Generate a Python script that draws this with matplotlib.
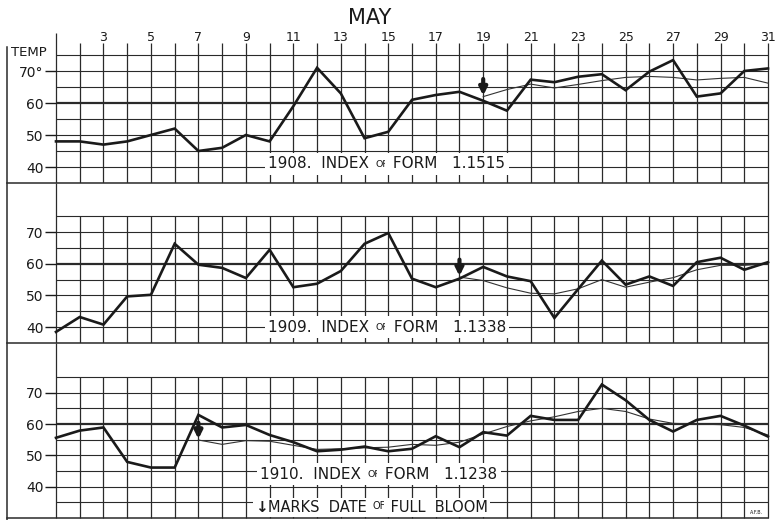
import matplotlib
matplotlib.use("Agg")
import matplotlib.pyplot as plt
from matplotlib.lines import Line2D

# ---------------- data ----------------
days = list(range(1, 32))
temp_1908 = [48, 48, 47, 48, 50, 52, 45, 46, 50, 48, 59, 71, 63, 49, 51,
             61, 62.5, 63.5, 60.7, 57.6, 67.3, 66.5, 68.2, 69, 64, 69.8, 73.4, 62, 63, 70, 70.8]
temp_1909 = [38.5, 43.2, 40.8, 49.7, 50.2, 66.3, 59.7, 58.7, 55.5, 64.4, 52.6, 53.7, 57.7, 66.3, 69.7,
             55.3, 52.6, 55.3, 59, 56, 54.5, 42.9, 52, 61, 53.4, 56, 53, 60.5, 61.9, 58.1, 60.5]
temp_1910 = [55.6, 57.9, 58.9, 47.9, 46.1, 46.1, 62.9, 58.9, 59.7, 56.5, 54.2, 51.3, 51.8, 52.8, 51.3,
             52.1, 56.1, 52.6, 57.4, 56.3, 62.6, 61.3, 61.3, 72.6, 67.6, 61.3, 57.6, 61.3, 62.6, 59.5, 56]

bloom_1908 = 19
bloom_1909 = 18
bloom_1910 = 7
thin_1908 = [62, 64.2, 65.9, 64.7, 65.8, 67, 68, 68.3, 68, 67.2, 67.7, 68, 66.2]
thin_1909 = [55.8, 54.7, 52.4, 50.7, 50.5, 52.1, 55, 52.6, 54.2, 55.6, 58.1, 59.5, 59.5, 60]
thin_1910 = [54.9, 53.5, 54.7, 54.5, 53.2, 51.9, 52.1, 52.4, 52.6, 53.5, 53.2, 54.2, 56.8, 59.2,
             61, 62.3, 64, 65, 64, 61.6, 60.2, 60, 59.8, 58.9, 56.5]

years = ["1908", "1909", "1910"]
index_form = ["1.1515", "1.1338", "1.1238"]
ytick_vals = [40, 50, 60, 70]
ytick_top = ["70°", "60", "50", "40"]
ytick_other = ["70", "60", "50", "40"]
day_labels = list(range(3, 32, 2))

# ---------------- figure ----------------
W, H = 778, 520
fig = plt.figure(figsize=(W / 100, H / 100), dpi=100)
fig.patch.set_facecolor("white")
INK = "#1a1a1a"
GRID = "#2a2a2a"

def px_ax(top, bottom, left=56, right=768):
    return fig.add_axes([left / W, 1 - bottom / H, (right - left) / W, (bottom - top) / H])

ax_top = px_ax(33, 183)
ax_mid = px_ax(183, 343)
ax_bot = px_ax(343, 518)
ax_top.set_ylim(35, 35 + 150 / 3.2)
ax_mid.set_ylim(35, 35 + 160 / 3.17)
ax_bot.set_ylim(30, 30 + 175 / 3.133)

panels = [
    (ax_top, temp_1908, bloom_1908, thin_1908, 35),
    (ax_mid, temp_1909, bloom_1909, thin_1909, 35),
    (ax_bot, temp_1910, bloom_1910, thin_1910, 30),
]

for i, (ax, temps, bloom, thin, ybot) in enumerate(panels):
    ax.set_xlim(1, 31)
    for s in ax.spines.values():
        s.set_visible(False)
    ax.set_xticks([])
    ytop_lim = ax.get_ylim()[1]
    # horizontal grid
    for v in range(35, 80, 5):
        ax.hlines(v, 1, 31, color=GRID, lw=1.6 if v == 60 else 0.8, clip_on=False, zorder=1)
    # vertical grid
    for d in days:
        if i == 0:
            top = ytop_lim if d == 1 else 78.6
        else:
            top = ytop_lim if d in (1, 31) else 75
        ax.vlines(d, ybot, top, color=GRID, lw=0.9, clip_on=False, zorder=1)
    # y ticks
    ax.set_yticks(ytick_vals)
    ax.set_yticklabels(ytick_top[::-1] if i == 0 else ytick_other[::-1])
    ax.tick_params(axis="y", length=8, width=1, pad=1, labelsize=10, color=INK, labelcolor=INK)
    # data lines
    ax.plot(days, temps, color=INK, lw=1.9, solid_joinstyle="miter", clip_on=False, zorder=4)
    ax.plot(days[bloom - 1:], thin, color="#333333", lw=0.8, clip_on=False, zorder=3)
    # bloom arrow
    tip = thin[0] + 0.3
    ax.annotate("", xy=(bloom, tip), xytext=(bloom, tip + 5.2),
                arrowprops=dict(arrowstyle="-|>", lw=3.0, color=INK, mutation_scale=11,
                                shrinkA=0, shrinkB=0), zorder=5)

# day labels on top panel
for d in day_labels:
    ax_top.text(d, 80.4, str(d), ha="center", va="center", fontsize=9, color=INK)

# panel captions with small "OF"
def caption(ax, x, y, year, idx, fs=11):
    box = dict(fc="white", ec="none", pad=2.5)
    t1 = ax.text(x, y, f"{year}.  INDEX ", fontsize=fs, ha="left", va="baseline",
                 color=INK, bbox=box, zorder=6)
    t2 = ax.annotate("OF", xy=(1, 0), xycoords=t1, xytext=(1, 2), textcoords="offset points",
                     fontsize=fs * 0.62, ha="left", va="bottom", color=INK, bbox=box, zorder=6)
    ax.annotate(f" FORM   {idx}", xy=(1, 0), xycoords=t2, xytext=(0, -2), textcoords="offset points",
                fontsize=fs, ha="left", va="bottom", color=INK, bbox=box, zorder=6)

caption(ax_top, 9.95, 39.6, years[0], index_form[0])
caption(ax_mid, 9.95, 38.6, years[1], index_form[1])
caption(ax_bot, 9.6, 42.6, years[2], index_form[2])

# legend note
box = dict(fc="white", ec="none", pad=1.5)
n1 = ax_bot.text(9.4, 33.4, "↓", fontsize=11, ha="left", va="center", color=INK,
                 fontweight="bold", bbox=box, zorder=6)
n2 = ax_bot.annotate("MARKS  DATE ", xy=(1, 0), xycoords=n1, xytext=(0, 0), textcoords="offset points",
                     fontsize=10.5, ha="left", va="bottom", color=INK, bbox=box, zorder=6)
n3 = ax_bot.annotate("OF", xy=(1, 0), xycoords=n2, xytext=(1, 3), textcoords="offset points",
                     fontsize=7, ha="left", va="bottom", color=INK, bbox=box, zorder=6)
ax_bot.annotate(" FULL  BLOOM", xy=(1, 0), xycoords=n3, xytext=(0, -3), textcoords="offset points",
                fontsize=10.5, ha="left", va="bottom", color=INK, bbox=box, zorder=6)

# frame lines (left border and panel separators)
def fline(x0, y0, x1, y1, lw=1.0):
    fig.add_artist(Line2D([x0 / W, x1 / W], [1 - y0 / H, 1 - y1 / H], color=GRID, lw=lw))

fline(7, 47, 7, 520, lw=1.1)
fline(7, 183, 768, 183, lw=1.1)
fline(7, 343, 768, 343, lw=1.1)
fline(7, 518, 768, 518, lw=1.1)

fig.text(11 / W, 1 - 52 / H, "TEMP", fontsize=9.5, ha="left", va="center", color=INK)
fig.text(370 / W, 1 - 18 / H, "MAY", fontsize=15, ha="center", va="center", color=INK)
fig.text(757 / W, 1 - 512 / H, "A.F.B.", fontsize=3.5, ha="center", va="center", color=INK)

fig.savefig("out.png", dpi=100, facecolor="white")
